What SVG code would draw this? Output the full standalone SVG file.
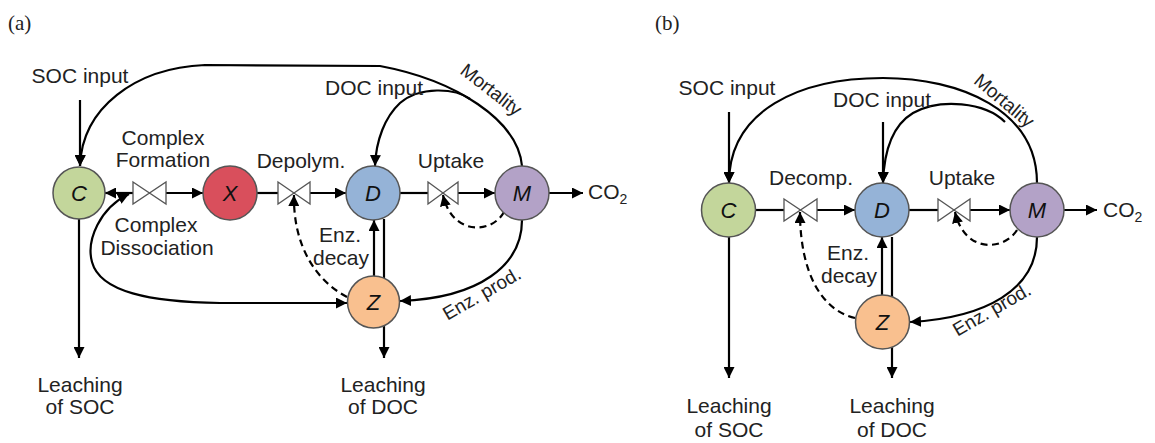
<svg xmlns="http://www.w3.org/2000/svg" width="1155" height="443" viewBox="0 0 1155 443">
<style>
  text { font-family: "Liberation Sans", Arial, sans-serif; font-size: 21px; fill: #222; }
  .lbl { text-anchor: middle; }
  .rot { font-size: 19px; text-anchor: middle; }
  .node text { font-style: italic; font-size: 22px; text-anchor: middle; fill: #111; }
  .node circle { stroke: #555; stroke-width: 1.5; }
  .panel { font-family: "Liberation Serif", "DejaVu Serif", serif; font-size: 21px; fill: #222; }
  .ln { fill: none; stroke: #000; stroke-width: 2.2; }
  .dash { fill: none; stroke: #000; stroke-width: 2.2; stroke-dasharray: 7 4.5; }
  .arr { marker-end: url(#ah); }
  .valve { fill: #fff; stroke: #555; stroke-width: 1.3; stroke-linejoin: miter; }
  .cC { fill: #c3d69b; } .cX { fill: #d94f5c; } .cD { fill: #95b3d7; } .cM { fill: #b3a2c7; } .cZ { fill: #f9c08f; }
</style>
<defs>
  <marker id="ah" viewBox="0 0 10 10" refX="10" refY="5" markerWidth="11" markerHeight="11" markerUnits="userSpaceOnUse" orient="auto-start-reverse">
    <path d="M0,0 L10,5 L0,10 Z" fill="#000"/>
  </marker>
</defs>

<text class="panel" x="8" y="30">(a)</text>
<text class="panel" x="655" y="30">(b)</text>

<!-- connectors -->
<g id="connectors">
  <!-- panel a -->
  <path class="ln arr" d="M80,100 L80,166"/>
  <path class="ln arr" d="M522,166 C518,120 455,80 380,66 L205,65 C135,68 82,108 80,166"/>
  <path class="ln arr" d="M470,99 C455,88 420,86 400,103 C385,117 376,140 375,166"/>
  <path class="ln arr" d="M133,193 L105,193"/>
  <path class="ln arr" d="M166,193 L203,193"/>
  <path class="ln" d="M257,193 L278,193"/>
  <path class="ln arr" d="M310,193 L346,193"/>
  <path class="ln" d="M400,193 L428,193"/>
  <path class="ln arr" d="M458,193 L495,193"/>
  <path class="ln arr" d="M549,193 L583,193"/>
  <path class="ln arr" d="M79,219 L79,358"/>
  <path class="ln arr" d="M384,219 L384,358"/>
  <path class="ln arr" d="M374,277 L374,220"/>
  <path class="ln arr" d="M522,220 C522,265 480,298 400,301"/>
  <path class="dash arr" d="M504,212 C492,234 452,236 443,195"/>
  <path class="dash arr" d="M347,297 C315,280 293,245 294,195"/>
  <path class="ln" d="M129,194 C100,208 86,240 92,262 C100,292 150,302 220,303 L347,303" marker-start="url(#ah)" marker-end="url(#ah)"/>
  <path class="valve" d="M133,182 L166,204 L166,182 L133,204 Z"/>
  <path class="valve" d="M278,182 L310,204 L310,182 L278,204 Z"/>
  <path class="valve" d="M428,182 L458,204 L458,182 L428,204 Z"/>

  <!-- panel b -->
  <path class="ln arr" d="M729,112 L729,183"/>
  <path class="ln arr" d="M1037,183 C1037,110 960,78 883,78 C800,78 729,110 729,183"/>
  <path class="ln arr" d="M1005,122 C985,102 940,98 913,113 C893,125 884,150 883,183"/>
  <path class="ln arr" d="M883,122 L883,183"/>
  <path class="ln" d="M755,210 L784,210"/>
  <path class="ln arr" d="M817,210 L855,210"/>
  <path class="ln" d="M909,210 L938,210"/>
  <path class="ln arr" d="M970,210 L1010,210"/>
  <path class="ln arr" d="M1064,210 L1097,210"/>
  <path class="ln arr" d="M729,237 L729,378"/>
  <path class="ln arr" d="M892,237 L892,378"/>
  <path class="ln arr" d="M882,295 L882,237"/>
  <path class="ln arr" d="M1037,237 C1037,290 985,318 910,322"/>
  <path class="dash arr" d="M855,318 C820,310 800,270 800,212"/>
  <path class="dash arr" d="M1017,230 C1005,250 965,255 955,212"/>
  <path class="valve" d="M784,199 L817,221 L817,199 L784,221 Z"/>
  <path class="valve" d="M938,199 L970,221 L970,199 L938,221 Z"/>
</g>

<!-- nodes panel a -->
<g id="a-C" class="node"><circle class="cC" cx="79" cy="193" r="26"/><text x="79" y="201">C</text></g>
<g id="a-X" class="node"><circle class="cX" cx="230" cy="193" r="27"/><text x="230" y="201">X</text></g>
<g id="a-D" class="node"><circle class="cD" cx="373" cy="193" r="27"/><text x="373" y="201">D</text></g>
<g id="a-M" class="node"><circle class="cM" cx="522" cy="193" r="27"/><text x="522" y="201">M</text></g>
<g id="a-Z" class="node"><circle class="cZ" cx="373.5" cy="302" r="26"/><text x="373.5" y="310">Z</text></g>

<!-- nodes panel b -->
<g id="b-C" class="node"><circle class="cC" cx="728.5" cy="210" r="27"/><text x="728.5" y="218">C</text></g>
<g id="b-D" class="node"><circle class="cD" cx="882" cy="210" r="27"/><text x="882" y="218">D</text></g>
<g id="b-M" class="node"><circle class="cM" cx="1037" cy="210" r="27"/><text x="1037" y="218">M</text></g>
<g id="b-Z" class="node"><circle class="cZ" cx="882.5" cy="322" r="27"/><text x="882.5" y="330">Z</text></g>

<!-- labels panel a -->
<g id="a-labels">
  <text class="lbl" x="80" y="83">SOC input</text>
  <text class="lbl" x="163" y="145">Complex</text>
  <text class="lbl" x="163" y="167">Formation</text>
  <text class="lbl" x="301" y="168">Depolym.</text>
  <text class="lbl" x="374" y="95">DOC input</text>
  <text class="lbl" x="451" y="168">Uptake</text>
  <text class="rot" transform="translate(491,90) rotate(38)" y="6">Mortality</text>
  <text x="588" y="199">CO<tspan font-size="14" dy="5">2</tspan></text>
  <text class="lbl" x="156" y="232">Complex</text>
  <text class="lbl" x="157" y="255">Dissociation</text>
  <text class="lbl" x="340" y="242">Enz.</text>
  <text class="lbl" x="341" y="265">decay</text>
  <text class="rot" transform="translate(482,294) rotate(-30)" y="6">Enz. prod.</text>
  <text class="lbl" x="80" y="392">Leaching</text>
  <text class="lbl" x="80" y="414">of SOC</text>
  <text class="lbl" x="383" y="392">Leaching</text>
  <text class="lbl" x="383" y="414">of DOC</text>
</g>

<!-- labels panel b -->
<g id="b-labels">
  <text class="lbl" x="727" y="95">SOC input</text>
  <text class="lbl" x="882" y="107">DOC input</text>
  <text class="lbl" x="811" y="185">Decomp.</text>
  <text class="lbl" x="962" y="185">Uptake</text>
  <text class="rot" transform="translate(1004,101) rotate(40)" y="6">Mortality</text>
  <text x="1103" y="217">CO<tspan font-size="14" dy="5">2</tspan></text>
  <text class="lbl" x="848" y="260">Enz.</text>
  <text class="lbl" x="849" y="283">decay</text>
  <text class="rot" transform="translate(992,310) rotate(-30)" y="6">Enz. prod.</text>
  <text class="lbl" x="729" y="413">Leaching</text>
  <text class="lbl" x="729" y="437">of SOC</text>
  <text class="lbl" x="892" y="413">Leaching</text>
  <text class="lbl" x="892" y="437">of DOC</text>
</g>
</svg>
